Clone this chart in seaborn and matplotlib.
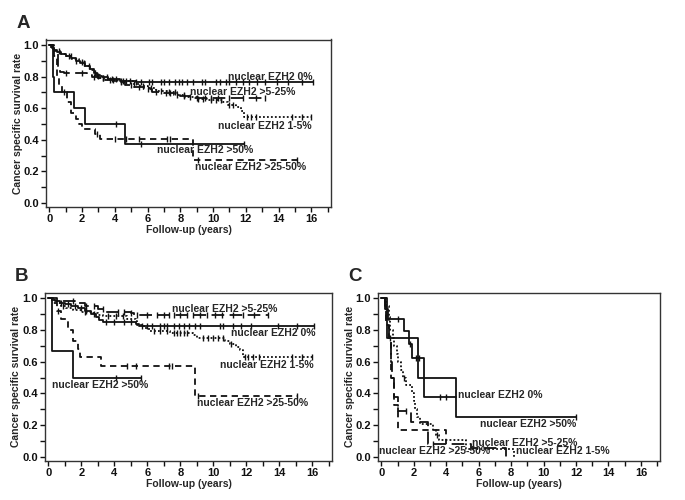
import numpy as np
import matplotlib
matplotlib.use("Agg")
import matplotlib.pyplot as plt
import seaborn as sns

# Kaplan-Meier Stufen (Zeit, Überlebensrate), letzter Punkt = Ende der Kurve
# Panel A
a_0_t = [0, 0.1, 0.2, 0.3, 0.5, 0.7, 1.0, 1.3, 1.6, 1.9, 2.2, 2.5, 2.7, 2.9, 3.2, 3.6, 4.3, 5.0, 5.3, 16.1]
a_0_s = [1.0, 0.99, 0.98, 0.97, 0.955, 0.945, 0.93, 0.915, 0.90, 0.885, 0.87, 0.85, 0.82, 0.805, 0.795, 0.785, 0.775, 0.77, 0.765, 0.765]
a_0_c = [1.2, 1.6, 2.1, 2.4, 2.8, 3.0, 3.5, 3.8, 4.1, 4.4, 4.7, 4.9, 5.3, 5.6, 6.1, 6.3, 6.8, 7.0, 7.3, 7.7, 7.9, 8.1,
         8.4, 8.8, 9.3, 9.5, 10.2, 10.4, 10.8, 11.0, 11.4, 11.8, 12.2, 12.7, 13.2, 13.9, 14.6, 15.4, 16.1]
a_525_t = [0, 0.15, 0.3, 0.55, 0.65, 0.9, 2.3, 2.6, 3.0, 3.4, 4.0, 4.6, 5.2, 5.8, 6.3, 7.0, 7.6, 8.0, 8.6, 13.2]
a_525_s = [1.0, 0.98, 0.96, 0.86, 0.83, 0.82, 0.81, 0.80, 0.79, 0.78, 0.765, 0.745, 0.735, 0.72, 0.705, 0.695, 0.685, 0.675, 0.665, 0.665]
a_525_c = [1.0, 2.0, 2.7, 3.3, 3.9, 4.4, 5.0, 5.5, 6.0, 6.5, 7.1, 7.4, 7.8, 8.2, 9.0, 9.5, 9.9, 10.3, 11.0, 11.8, 12.6, 13.2]
a_15_t = [0, 0.1, 0.2, 0.4, 0.7, 1.0, 1.4, 1.8, 2.2, 2.5, 2.8, 3.1, 3.6, 4.2, 4.8, 5.1, 5.5, 6.0, 6.5, 7.2, 7.8, 8.3,
          9.0, 9.6, 10.6, 10.9, 11.4, 11.7, 11.9, 16.0]
a_15_s = [1.0, 0.99, 0.975, 0.96, 0.945, 0.93, 0.91, 0.89, 0.865, 0.84, 0.81, 0.79, 0.78, 0.775, 0.77, 0.755, 0.74, 0.725,
          0.71, 0.70, 0.685, 0.67, 0.66, 0.65, 0.64, 0.62, 0.61, 0.58, 0.545, 0.545]
a_15_c = [0.6, 1.3, 2.0, 2.9, 3.3, 3.7, 4.5, 5.2, 5.7, 6.2, 6.8, 7.3, 7.7, 8.2, 8.6, 9.1, 9.4, 9.9, 10.2, 10.5, 11.0,
          11.2, 12.1, 12.3, 12.6, 14.8, 15.4, 16.0]
a_2550_t = [0, 0.3, 0.5, 0.6, 0.8, 1.1, 1.3, 1.6, 1.8, 2.0, 2.8, 3.1, 8.8, 15.1]
a_2550_s = [1.0, 0.93, 0.80, 0.75, 0.70, 0.64, 0.57, 0.535, 0.50, 0.47, 0.44, 0.405, 0.27, 0.27]
a_2550_c = [0.9, 2.9, 4.0, 4.7, 5.5, 7.2, 7.4, 9.1, 15.1]
a_50_t = [0, 0.2, 0.3, 1.5, 2.2, 4.6, 11.9]
a_50_s = [1.0, 0.8, 0.7, 0.6, 0.5, 0.375, 0.375]
a_50_c = [4.1, 5.6, 11.9]

# Panel B
b_0_t = [0, 0.2, 0.4, 0.7, 1.0, 1.4, 1.8, 2.2, 2.6, 2.9, 3.1, 3.3, 5.3, 5.5, 16.1]
b_0_s = [1.0, 0.99, 0.98, 0.97, 0.96, 0.95, 0.935, 0.92, 0.90, 0.88, 0.86, 0.85, 0.835, 0.825, 0.825]
b_0_c = [0.8, 1.2, 1.6, 2.0, 2.3, 2.8, 3.5, 4.0, 4.6, 5.0, 5.7, 6.0, 6.3, 6.8, 7.0, 7.2, 7.6, 7.9, 8.2, 8.5, 8.9, 9.2,
         10.4, 10.6, 11.2, 11.7, 12.3, 13.9, 15.1, 16.1]
b_525_t = [0, 0.5, 1.6, 2.2, 3.0, 3.4, 5.0, 5.2, 13.3]
b_525_s = [1.0, 0.98, 0.97, 0.95, 0.93, 0.915, 0.905, 0.895, 0.895]
b_525_c = [1.5, 2.3, 2.8, 3.3, 4.2, 4.6, 5.0, 5.4, 6.0, 6.6, 7.0, 7.3, 7.6, 8.0, 8.4, 8.8, 9.2, 9.6, 10.1, 10.5, 11.2,
           11.8, 12.5, 13.3]
b_15_t = [0, 0.2, 0.5, 0.8, 1.1, 1.5, 2.0, 2.6, 3.0, 3.3, 4.8, 5.3, 5.4, 5.8, 6.1, 7.4, 8.8, 9.0, 10.7, 11.0, 11.4,
          11.6, 11.8, 16.0]
b_15_s = [1.0, 0.99, 0.97, 0.95, 0.935, 0.925, 0.915, 0.905, 0.895, 0.885, 0.87, 0.855, 0.83, 0.81, 0.79, 0.78, 0.765,
          0.75, 0.73, 0.71, 0.69, 0.675, 0.63, 0.63]
b_15_c = [0.9, 2.2, 3.6, 4.1, 4.5, 6.4, 6.8, 7.2, 7.6, 7.8, 8.0, 8.2, 8.4, 9.4, 9.7, 10.0, 10.3, 10.6, 11.1, 11.9,
          12.1, 12.4, 12.8, 14.8, 15.4, 16.0]
b_2550_t = [0, 0.3, 0.5, 0.8, 1.2, 1.5, 1.8, 1.9, 3.2, 8.9, 15.1]
b_2550_s = [1.0, 0.97, 0.92, 0.87, 0.80, 0.73, 0.68, 0.63, 0.575, 0.385, 0.385]
b_2550_c = [0.6, 4.8, 5.3, 7.3, 7.5, 9.1, 15.1]
b_50_t = [0, 0.2, 1.5, 5.6]
b_50_s = [1.0, 0.667, 0.5, 0.5]
b_50_c = [4.1, 5.6]

# Panel C
c_0_t = [0, 0.25, 0.4, 1.4, 1.7, 1.9, 2.65, 4.6]
c_0_s = [1.0, 0.933, 0.867, 0.79, 0.71, 0.62, 0.375, 0.375]
c_0_c = [1.0, 1.75, 2.15, 2.35, 3.6, 4.0]
c_50_t = [0, 0.35, 2.25, 4.6, 12.0]
c_50_s = [1.0, 0.75, 0.5, 0.25, 0.25]
c_50_c = [12.0]
c_15_t = [0, 0.3, 0.45, 0.55, 0.7, 0.8, 0.95, 1.05, 1.2, 1.35, 1.5, 1.9, 2.0, 2.1, 2.2, 2.4, 3.2, 3.35, 3.55, 5.2, 8.2]
c_15_s = [1.0, 0.95, 0.88, 0.80, 0.75, 0.70, 0.65, 0.60, 0.55, 0.50, 0.45, 0.40, 0.35, 0.30, 0.25, 0.21, 0.17, 0.14,
          0.11, 0.05, 0.0]
c_15_c = [1.4, 3.4]
c_525_t = [0, 0.2, 0.3, 0.5, 0.6, 0.65, 0.8, 1.0, 1.8, 2.9, 5.5, 7.7]
c_525_s = [1.0, 0.95, 0.87, 0.75, 0.6, 0.5, 0.38, 0.29, 0.22, 0.08, 0.055, 0.0]
c_525_c = [1.5, 3.2]
c_2550_t = [0, 0.3, 0.45, 0.6, 0.75, 1.0, 4.0]
c_2550_s = [1.0, 0.83, 0.75, 0.5, 0.33, 0.17, 0.08]
c_2550_c = [0.55]

# Linienstile je Gruppe
stil = {
    '0': '-',
    '525': (0, (7, 3)),
    '15': (0, (1, 1.2)),
    '2550': (0, (3.5, 2.5)),
    '50': '-',
}

sns.set_style("ticks")
plt.rcParams['font.family'] = ['Liberation Sans', 'DejaVu Sans']
plt.rcParams['font.weight'] = 'bold'

FARBE = '#111111'


def zeichne_kurve(ax, zeiten, werte, zensiert, linie):
    sns.lineplot(x=zeiten, y=werte, ax=ax, drawstyle='steps-post', estimator=None, sort=False,
                 color=FARBE, linestyle=linie, linewidth=1.3)
    z = np.asarray(zensiert, dtype=float)
    idx = np.searchsorted(np.asarray(zeiten), z, side='right') - 1
    ax.plot(z, np.asarray(werte)[idx], linestyle='none', marker='|', markersize=5,
            markeredgewidth=1.0, color=FARBE)


def formatiere(ax, buchstabe):
    ax.set_xlim(-0.2, 17.2)
    ax.set_ylim(-0.025, 1.035)
    ax.set_xticks(np.arange(0, 17, 2))
    ax.set_xticks(np.arange(1, 18, 2), minor=True)
    ax.set_yticks(np.arange(0, 1.01, 0.2))
    ax.set_yticks(np.arange(0.1, 1.0, 0.2), minor=True)
    ax.set_xticklabels([str(v) for v in range(0, 17, 2)])
    ax.set_yticklabels([f"{v:.1f}" for v in np.arange(0, 1.01, 0.2)])
    ax.tick_params(which='both', direction='out', length=3.5, width=1.0, pad=1.5,
                   labelsize=8, colors='#111111')
    ax.set_xlabel('Follow-up (years)', fontsize=7.5, fontweight='bold', labelpad=1)
    ax.set_ylabel('Cancer specific survival rate', fontsize=7.5, fontweight='bold')
    ax.yaxis.set_label_coords(-0.082, 0.5)
    for s in ax.spines.values():
        s.set_visible(True)
        s.set_linewidth(1.0)
        s.set_color('#333333')
    ax.text(-0.105, 1.045, buchstabe, transform=ax.transAxes, fontsize=13.5, fontweight='bold',
            ha='left', va='bottom')


def beschrifte(ax, x, y, text, ha='left'):
    ax.text(x, y, text, fontsize=7.5, fontweight='bold', ha=ha, va='center')


fig = plt.figure(figsize=(6.85, 5.0), dpi=100)
ax_a = fig.add_axes([0.0672, 0.586, 0.416, 0.335])
ax_b = fig.add_axes([0.0657, 0.078, 0.419, 0.337])
ax_c = fig.add_axes([0.552, 0.078, 0.412, 0.337])

# Panel A
zeichne_kurve(ax_a, a_0_t, a_0_s, a_0_c, stil['0'])
zeichne_kurve(ax_a, a_525_t, a_525_s, a_525_c, stil['525'])
zeichne_kurve(ax_a, a_15_t, a_15_s, a_15_c, stil['15'])
zeichne_kurve(ax_a, a_2550_t, a_2550_s, a_2550_c, stil['2550'])
zeichne_kurve(ax_a, a_50_t, a_50_s, a_50_c, stil['50'])
formatiere(ax_a, 'A')
beschrifte(ax_a, 16.1, 0.80, 'nuclear EZH2 0%', ha='right')
beschrifte(ax_a, 8.6, 0.70, 'nuclear EZH2 >5-25%')
beschrifte(ax_a, 16.0, 0.49, 'nuclear EZH2 1-5%', ha='right')
beschrifte(ax_a, 6.6, 0.335, 'nuclear EZH2 >50%')
beschrifte(ax_a, 8.9, 0.23, 'nuclear EZH2 >25-50%')

# Panel B
zeichne_kurve(ax_b, b_0_t, b_0_s, b_0_c, stil['0'])
zeichne_kurve(ax_b, b_525_t, b_525_s, b_525_c, stil['525'])
zeichne_kurve(ax_b, b_15_t, b_15_s, b_15_c, stil['15'])
zeichne_kurve(ax_b, b_2550_t, b_2550_s, b_2550_c, stil['2550'])
zeichne_kurve(ax_b, b_50_t, b_50_s, b_50_c, stil['50'])
formatiere(ax_b, 'B')
beschrifte(ax_b, 7.5, 0.93, 'nuclear EZH2 >5-25%')
beschrifte(ax_b, 16.2, 0.78, 'nuclear EZH2 0%', ha='right')
beschrifte(ax_b, 16.1, 0.58, 'nuclear EZH2 1-5%', ha='right')
beschrifte(ax_b, 0.25, 0.45, 'nuclear EZH2 >50%')
beschrifte(ax_b, 9.0, 0.34, 'nuclear EZH2 >25-50%')

# Panel C
zeichne_kurve(ax_c, c_0_t, c_0_s, c_0_c, stil['0'])
zeichne_kurve(ax_c, c_50_t, c_50_s, c_50_c, stil['50'])
zeichne_kurve(ax_c, c_15_t, c_15_s, c_15_c, stil['15'])
zeichne_kurve(ax_c, c_525_t, c_525_s, c_525_c, stil['525'])
zeichne_kurve(ax_c, c_2550_t, c_2550_s, c_2550_c, stil['2550'])
formatiere(ax_c, 'C')
beschrifte(ax_c, 4.7, 0.39, 'nuclear EZH2 0%')
beschrifte(ax_c, 12.0, 0.21, 'nuclear EZH2 >50%', ha='right')
beschrifte(ax_c, 5.6, 0.09, 'nuclear EZH2 >5-25%')
beschrifte(ax_c, -0.15, 0.035, 'nuclear EZH2 >25-50%')
beschrifte(ax_c, 8.3, 0.035, 'nuclear EZH2 1-5%')

fig.savefig('out.png', dpi=100)
